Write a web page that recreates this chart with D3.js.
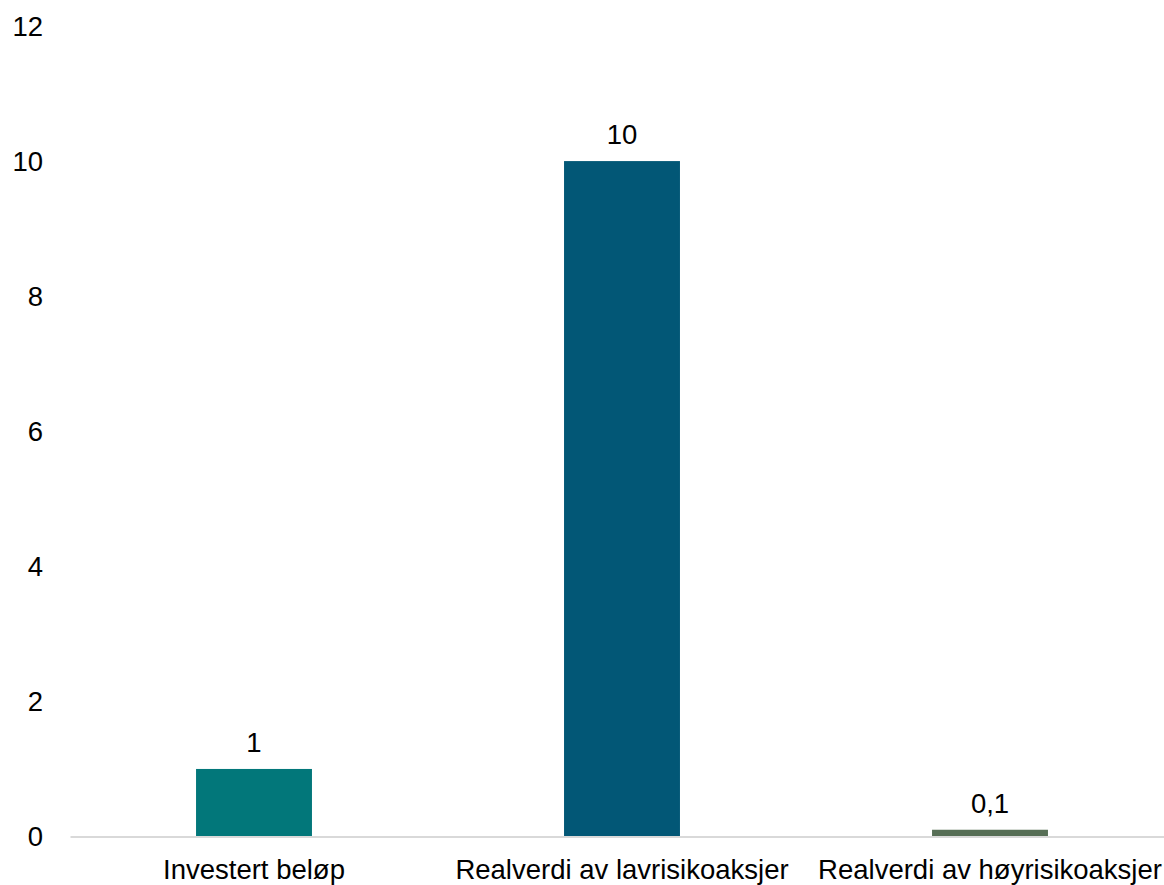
<!DOCTYPE html>
<html>
<head>
<meta charset="utf-8">
<script src="https://cdn.jsdelivr.net/npm/d3@7"></script>
<style>
  body { margin: 0; background: #fff; }
  text { font-family: "Liberation Sans", Arial, sans-serif; fill: #000; }
</style>
</head>
<body>
<div id="container"></div>
<script>
/* DATA */
const categories = ["Investert beløp", "Realverdi av lavrisikoaksjer", "Realverdi av høyrisikoaksjer"];
const values = [1, 10, 0.1];
const valueLabels = ["1", "10", "0,1"];
const barColors = ["#02777A", "#025776", "#566E55"];
const yTicks = [0, 2, 4, 6, 8, 10, 12];

/* CONSTANTS */
const width = 1164;
const height = 885;
const margin = ({top: 26, right: -10, bottom: 48, left: 70});
const fontSize = 27.5;

const svg = d3.select("#container")
  .append("svg")
  .attr("width", width)
  .attr("height", height);

/* SCALES */
const xScale = d3.scaleBand()
  .domain(categories)
  .range([margin.left, width - margin.right])
  .paddingInner(0.685)
  .paddingOuter(0.3425);

const yScale = d3.scaleLinear()
  .domain([0, 12])
  .range([height - margin.bottom - 0.5, margin.top]);

// y tick labels (no axis line)
svg.append("g")
  .selectAll("text")
  .data(yTicks)
  .join("text")
  .attr("x", 43)
  .attr("y", d => yScale(d))
  .attr("dy", "0.35em")
  .attr("text-anchor", "end")
  .attr("font-size", fontSize)
  .text(d => d);

// bars
svg.selectAll("rect.bar")
  .data(values)
  .join("rect")
  .attr("class", "bar")
  .attr("x", (d, i) => xScale(categories[i]))
  .attr("width", xScale.bandwidth())
  .attr("y", d => yScale(d))
  .attr("height", d => yScale(0) - yScale(d))
  .attr("fill", (d, i) => barColors[i]);

// value labels
svg.selectAll("text.val")
  .data(values)
  .join("text")
  .attr("class", "val")
  .attr("x", (d, i) => xScale(categories[i]) + xScale.bandwidth() / 2)
  .attr("y", d => yScale(d) - 17)
  .attr("text-anchor", "middle")
  .attr("font-size", fontSize)
  .text((d, i) => valueLabels[i]);

// x axis
const xAxis = d3.axisBottom(xScale).tickSize(0).tickPadding(23);
const gx = svg.append("g")
  .attr("transform", `translate(0, ${yScale(0)})`)
  .call(xAxis);
gx.select(".domain").attr("stroke", "#d9d9d9").attr("stroke-width", 2);
gx.selectAll(".tick text")
  .attr("font-size", fontSize)
  .style("font-family", "'Liberation Sans', Arial, sans-serif")
  .attr("fill", "#000");
</script>
</body>
</html>
